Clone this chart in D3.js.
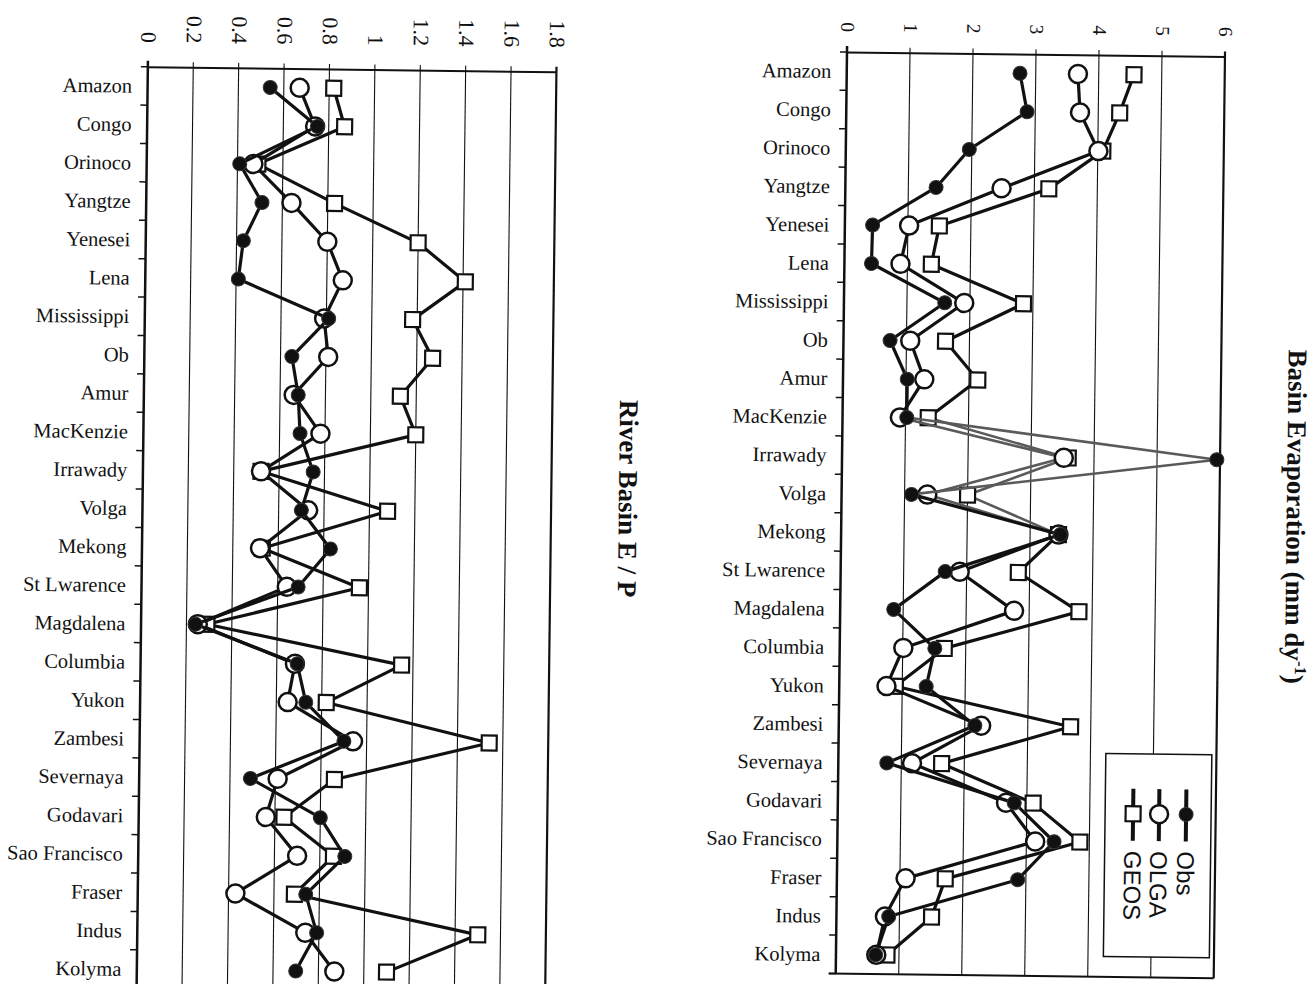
<!DOCTYPE html>
<html lang="en">
<head>
<meta charset="utf-8" />
<title>River basin E/P and evaporation</title>
<script src="https://cdn.jsdelivr.net/npm/d3@7"></script>
<style>
  body { margin: 0; background: #fff; }
  svg { display: block; }
  text { font-family: "Liberation Serif", "Times New Roman", serif; fill: #111; }
</style>
</head>
<body>
<script>
  const basins = ["Amazon", "Congo", "Orinoco", "Yangtze", "Yenesei", "Lena", "Mississippi",
    "Ob", "Amur", "MacKenzie", "Irrawady", "Volga", "Mekong", "St Lwarence", "Magdalena",
    "Columbia", "Yukon", "Zambesi", "Severnaya", "Godavari", "Sao Francisco", "Fraser",
    "Indus", "Kolyma"];

  // River basin E / P (left panel)
  const epObs  = [0.54, 0.75, 0.41, 0.51, 0.43, 0.41, 0.81, 0.65, 0.68, 0.69, 0.75, 0.70,
                  0.83, 0.69, 0.24, 0.69, 0.73, 0.90, 0.49, 0.80, 0.91, 0.74, 0.79, 0.70];
  const epOlga = [0.67, 0.74, 0.47, 0.64, 0.80, 0.87, 0.79, 0.81, 0.66, 0.78, 0.52, 0.73,
                  0.52, 0.64, 0.25, 0.68, 0.65, 0.94, 0.61, 0.56, 0.70, 0.43, 0.74, 0.87];
  const epGeos = [0.82, 0.87, 0.49, 0.83, 1.20, 1.41, 1.18, 1.27, 1.13, 1.20, 0.52, 1.08,
                  0.53, 0.96, 0.29, 1.15, 0.82, 1.54, 0.86, 0.64, 0.86, 0.69, 1.50, 1.10];
  const epTicks = [0, 0.2, 0.4, 0.6, 0.8, 1, 1.2, 1.4, 1.6, 1.8];

  // Basin evaporation, mm/day (right panel)
  const evObs  = [2.75, 2.87, 1.96, 1.44, 0.44, 0.43, 1.60, 0.74, 1.02, 1.02, 5.95, 1.11,
                  3.48, 1.66, 0.85, 1.51, 1.38, 2.16, 0.77, 2.80, 3.44, 2.87, 0.83, 0.63];
  const evOlga = [3.67, 3.71, 4.01, 2.48, 1.02, 0.89, 1.91, 1.06, 1.29, 0.91, 3.52, 1.36,
                  3.45, 1.89, 2.76, 1.01, 0.75, 2.26, 1.17, 2.67, 3.14, 1.09, 0.77, 0.64];
  const evGeos = [4.56, 4.34, 4.08, 3.23, 1.50, 1.38, 2.85, 1.62, 2.14, 1.36, 3.59, 2.00,
                  3.45, 2.82, 3.79, 1.66, 0.89, 3.68, 1.64, 3.10, 3.85, 1.72, 1.51, 0.81];
  const evTicks = [0, 1, 2, 3, 4, 5, 6];

  const seriesNames = ["Obs", "OLGA", "GEOS"];

  const W = 1316, H = 984;
  const ink = "#111";

  const svg = d3.select("body").append("svg")
      .attr("width", W)
      .attr("height", H);

  // the scanned page sits slightly skewed
  const page = svg.append("g")
      .attr("transform", "rotate(0.7 658 492)");

  function marker(g, kind, x, y) {
    if (kind == "Obs") {
      g.append("circle").attr("cx", x).attr("cy", y).attr("r", 7)
        .attr("fill", ink).attr("stroke", "#333").attr("stroke-width", 1);
    } else if (kind == "OLGA") {
      g.append("circle").attr("cx", x).attr("cy", y).attr("r", 9)
        .attr("fill", "#fff").attr("stroke", ink).attr("stroke-width", 2.5);
    } else {
      g.append("rect").attr("x", x - 7.5).attr("y", y - 7.5)
        .attr("width", 15).attr("height", 15)
        .attr("fill", "#fff").attr("stroke", ink).attr("stroke-width", 2.2);
    }
  }

  function drawPanel(opt) {
    const g = page.append("g");
    const x = d3.scaleLinear([0, opt.max], opt.xRange);
    const y = d3.scaleBand(basins, opt.yRange);
    const top = opt.yRange[0], bottom = opt.yRange[1];

    // vertical grid lines
    g.append("g").selectAll("line")
      .data(opt.ticks.slice(1))
      .join("line")
      .attr("x1", d => x(d)).attr("x2", d => x(d))
      .attr("y1", top - 5).attr("y2", bottom)
      .attr("stroke", ink)
      .attr("stroke-width", d => d == opt.max ? 2.2 : 1.1);

    // top axis with rotated labels
    const axis = g.append("g")
        .attr("transform", `translate(0,${top})`)
        .call(d3.axisTop(x).tickValues(opt.ticks).tickSize(5).tickSizeOuter(0)
          .tickFormat(d => String(d)));
    axis.select(".domain").attr("stroke", ink).attr("stroke-width", 2);
    axis.selectAll(".tick line").remove();
    axis.selectAll(".tick text")
      .attr("x", 0).attr("y", 0).attr("dy", null)
      .attr("transform", `translate(0,${-opt.labelGap}) rotate(90)`)
      .attr("text-anchor", "end")
      .attr("dominant-baseline", "central")
      .attr("fill", ink)
      .style("font-family", '"Liberation Serif", "Times New Roman", serif')
      .style("font-size", opt.tickFont + "px");

    // category axis
    g.append("line")
      .attr("x1", x(0)).attr("x2", x(0))
      .attr("y1", top - 6).attr("y2", bottom)
      .attr("stroke", ink).attr("stroke-width", 2.5);
    const edges = basins.map(b => y(b)).concat([bottom]);
    g.append("g").selectAll("line")
      .data(edges)
      .join("line")
      .attr("x1", x(0) - 7).attr("x2", x(0))
      .attr("y1", d => d).attr("y2", d => d)
      .attr("stroke", ink).attr("stroke-width", 1.5);
    if (opt.closed) {
      g.append("line")
        .attr("x1", x(0) - 7).attr("x2", x(opt.max))
        .attr("y1", bottom).attr("y2", bottom)
        .attr("stroke", ink).attr("stroke-width", 2);
    }

    g.append("g").selectAll("text")
      .data(basins)
      .join("text")
      .attr("x", x(0) - 15.5)
      .attr("y", d => y(d) + y.bandwidth() / 2)
      .attr("text-anchor", "end")
      .attr("dominant-baseline", "central")
      .style("font-size", "20.5px")
      .text(d => d);

    // axis title, rotated like the page
    const tx = opt.title.x, ty = opt.title.y;
    const title = g.append("text")
      .attr("x", tx).attr("y", ty)
      .attr("transform", `rotate(90 ${tx} ${ty})`)
      .attr("text-anchor", "middle")
      .attr("dominant-baseline", "central")
      .style("font-size", opt.title.size + "px")
      .style("font-weight", "bold");
    title.append("tspan").text(opt.title.text);
    if (opt.title.sup) {
      title.append("tspan").attr("dy", -7)
        .style("font-size", (opt.title.size * 0.62) + "px").text(opt.title.sup);
      title.append("tspan").attr("dy", 7).text(")");
    }

    // series: GEOS at the bottom, Obs on top
    const cy = b => y(b) + y.bandwidth() / 2;
    const order = ["GEOS", "OLGA", "Obs"];
    order.forEach(name => {
      const vals = opt.series[name];
      const pts = basins.map((b, i) => [x(vals[i]), cy(b)]);
      const sg = g.append("g");
      for (let i = 0; i < pts.length - 1; i++) {
        const faded = opt.faded && opt.faded(name, basins[i], basins[i + 1]);
        sg.append("line")
          .attr("x1", pts[i][0]).attr("y1", pts[i][1])
          .attr("x2", pts[i + 1][0]).attr("y2", pts[i + 1][1])
          .attr("stroke", faded ? "#5a5a5a" : ink)
          .attr("stroke-width", faded ? 2.6 : 3.2)
          .attr("stroke-linecap", "round");
      }
      pts.forEach(p => marker(sg, name, p[0], p[1]));
    });

    return {x, y, g};
  }

  drawPanel({
    max: 1.8,
    ticks: epTicks,
    xRange: [142.7, 551.3],
    yRange: [73, 73 + 24 * 38.4],
    labelGap: 24,
    tickFont: 22,
    closed: false,
    series: {Obs: epObs, OLGA: epOlga, GEOS: epGeos},
    title: {text: "River Basin E / P", x: 628, y: 499, size: 27}
  });

  const right = drawPanel({
    max: 6,
    ticks: evTicks,
    xRange: [841.6, 1219.6],
    yRange: [49.7, 49.7 + 24 * 38.4],
    labelGap: 20,
    tickFont: 19.5,
    closed: true,
    series: {Obs: evObs, OLGA: evOlga, GEOS: evGeos},
    faded: (name, a, b) => (a == "Irrawady" || b == "Irrawady") ||
                           (name != "Obs" && a == "Volga"),
    title: {text: "Basin Evaporation (mm dy", sup: "-1", x: 1296, y: 509, size: 27}
  });

  // legend box
  const lx = 1109, ly = 748;
  const legend = right.g.append("g");
  legend.append("rect")
    .attr("x", lx).attr("y", ly).attr("width", 106).attr("height", 203)
    .attr("fill", "#fff").attr("stroke", ink).attr("stroke-width", 1.5);
  const legendX = {Obs: 81, OLGA: 54, GEOS: 28};
  seriesNames.forEach(name => {
    const cx = lx + legendX[name];
    legend.append("line")
      .attr("x1", cx).attr("x2", cx)
      .attr("y1", ly + 35).attr("y2", ly + 87)
      .attr("stroke", ink).attr("stroke-width", 4);
    marker(legend, name, cx, ly + 60);
    legend.append("text")
      .attr("x", cx).attr("y", ly + 97)
      .attr("transform", `rotate(90 ${cx} ${ly + 97})`)
      .attr("dominant-baseline", "central")
      .style("font-family", '"Liberation Sans", Arial, sans-serif')
      .style("font-size", "24px")
      .text(name);
  });
</script>
</body>
</html>
